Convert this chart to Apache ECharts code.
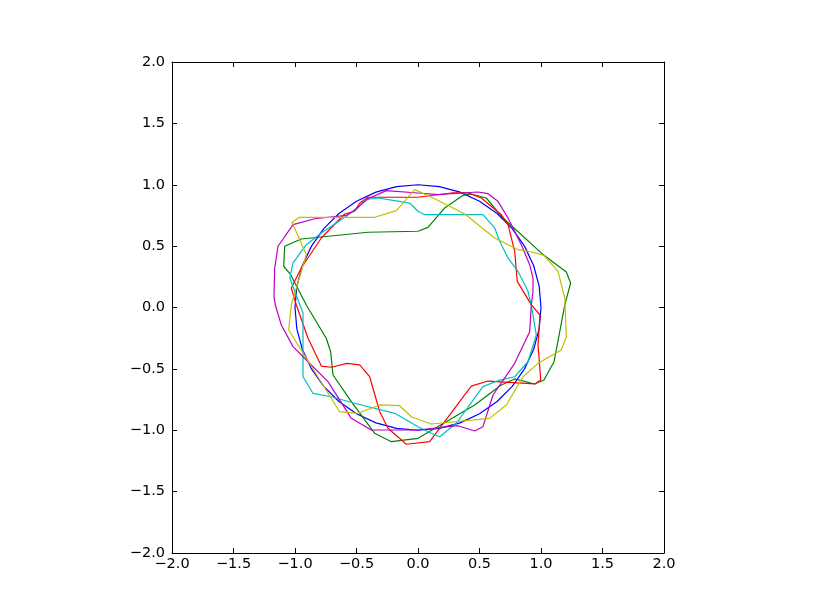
<!DOCTYPE html>
<html>
<head>
<meta charset="utf-8">
<script src="https://cdn.jsdelivr.net/npm/echarts@6/dist/echarts.min.js"></script>
<style>
html,body{margin:0;padding:0;background:#fff;}
#chart{width:815px;height:615px;}
</style>
</head>
<body>
<div id="chart"></div>
<script>
// Tick values
var tickValues = [-2.0, -1.5, -1.0, -0.5, 0.0, 0.5, 1.0, 1.5, 2.0];

// Curves: [x, y] points
var blueCurve = [
  [1.000,0.000],[0.985,0.174],[0.940,0.342],[0.866,0.500],[0.766,0.643],[0.643,0.766],
  [0.500,0.866],[0.342,0.940],[0.174,0.985],[0.000,1.000],[-0.174,0.985],[-0.342,0.940],
  [-0.500,0.866],[-0.643,0.766],[-0.766,0.643],[-0.866,0.500],[-0.940,0.342],[-0.985,0.174],
  [-1.000,0.000],[-0.985,-0.174],[-0.940,-0.342],[-0.866,-0.500],[-0.766,-0.643],[-0.643,-0.766],
  [-0.500,-0.866],[-0.342,-0.940],[-0.174,-0.985],[0.000,-1.000],[0.174,-0.985],[0.342,-0.940],
  [0.500,-0.866],[0.643,-0.766],[0.766,-0.643],[0.866,-0.500],[0.940,-0.342],[0.985,-0.174]
];

var greenCurve = [
  [0.000,0.621],[0.081,0.653],[0.217,0.811],[0.366,0.914],[0.433,0.925],[0.555,0.892],
  [0.691,0.729],[1.024,0.425],[1.206,0.289],[1.241,0.200],[1.193,0.020],[1.106,-0.442],
  [1.024,-0.591],[0.949,-0.623],[0.786,-0.582],[0.677,-0.631],[0.461,-0.794],[0.000,-1.066],
  [-0.217,-1.093],[-0.352,-1.025],[-0.542,-0.767],[-0.691,-0.550],[-0.710,-0.360],[-0.746,-0.251],
  [-0.908,0.020],[-1.035,0.267],[-1.092,0.336],[-1.084,0.499],[-0.949,0.558],[-0.407,0.613]
];

var redCurve = [
  [0.000,0.898],[0.271,0.933],[0.407,0.933],[0.515,0.892],[0.677,0.756],[0.732,0.675],
  [0.786,0.458],[0.807,0.213],[0.921,0.023],[0.992,-0.061],[0.976,-0.305],[0.998,-0.591],
  [0.949,-0.623],[0.569,-0.599],[0.433,-0.640],[0.095,-1.093],[-0.095,-1.114],[-0.244,-0.984],
  [-0.311,-0.849],[-0.393,-0.564],[-0.474,-0.468],[-0.577,-0.455],[-0.705,-0.487],[-0.786,-0.477],
  [-0.894,-0.251],[-0.989,0.020],[-1.030,0.159],[-0.949,0.322],[-0.786,0.566],[-0.596,0.762],
  [-0.515,0.784],[-0.474,0.851],[-0.407,0.898],[-0.189,0.898]
];

var cyanCurve = [
  [0.000,0.784],[0.054,0.756],[0.352,0.756],[0.528,0.756],[0.624,0.648],[0.664,0.539],
  [0.732,0.403],[0.813,0.295],[0.894,0.132],[0.921,0.020],[0.962,-0.224],[0.894,-0.442],
  [0.786,-0.564],[0.664,-0.591],[0.528,-0.645],[0.311,-0.943],[0.176,-1.053],[0.108,-1.025],
  [0.000,-0.971],[-0.189,-0.862],[-0.515,-0.780],[-0.705,-0.727],[-0.854,-0.699],[-0.935,-0.564],
  [-0.935,-0.045],[-1.043,0.240],[-1.016,0.363],[-0.908,0.512],[-0.786,0.607],[-0.583,0.743],
  [-0.488,0.811],[-0.433,0.878],[-0.325,0.892],[-0.189,0.870],[-0.067,0.851]
];

var magentaCurve = [
  [0.000,0.933],[0.163,0.919],[0.352,0.933],[0.488,0.941],[0.569,0.927],[0.650,0.865],
  [0.732,0.729],[0.840,0.512],[0.908,0.349],[0.935,0.240],[0.935,0.132],[0.921,0.020],
  [0.908,-0.197],[0.786,-0.455],[0.610,-0.713],[0.528,-0.971],[0.461,-1.006],[0.325,-0.963],
  [0.000,-0.998],[-0.380,-0.998],[-0.542,-0.903],[-0.732,-0.604],[-0.894,-0.442],[-1.016,-0.319],
  [-1.111,-0.143],[-1.160,0.020],[-1.171,0.091],[-1.165,0.322],[-1.138,0.499],[-1.016,0.675],
  [-0.840,0.723],[-0.583,0.751],[-0.528,0.784],[-0.407,0.886],[-0.258,0.952]
];

var yellowCurve = [
  [-0.027,0.960],[0.136,0.886],[0.380,0.762],[0.624,0.566],[0.813,0.471],[0.921,0.452],
  [1.024,0.425],[1.138,0.295],[1.193,0.077],[1.206,-0.238],[1.165,-0.346],[0.976,-0.455],
  [0.854,-0.564],[0.718,-0.794],[0.583,-0.903],[0.108,-0.949],[-0.054,-0.890],[-0.149,-0.800],
  [-0.311,-0.794],[-0.488,-0.862],[-0.637,-0.849],[-1.051,-0.183],[-1.030,0.020],[-0.908,0.430],
  [-1.024,0.694],[-0.962,0.735],[-0.352,0.735],[-0.176,0.789]
];

var curves = [
  {name:'b', data: blueCurve, color:'#0000ff'},
  {name:'g', data: greenCurve, color:'#008000'},
  {name:'r', data: redCurve, color:'#ff0000'},
  {name:'c', data: cyanCurve, color:'#00bfbf'},
  {name:'m', data: magentaCurve, color:'#bf00bf'},
  {name:'y', data: yellowCurve, color:'#bfbf00'}
];

function closed(arr){ return arr.concat([arr[0]]); }
function fmt(v){ return v.toFixed(1).replace('-', '\u2212'); }

var labelFont = {fontFamily:'DejaVu Sans', fontSize:14.5, color:'#000'};
function axisCommon(show, pos){
  return {
    type:'value', min:tickValues[0], max:tickValues[tickValues.length-1],
    interval:0.5, position:pos,
    axisLine:{show:true, onZero:false, lineStyle:{color:'#000', width:1}},
    axisTick:{show:true, inside:true, length:5, lineStyle:{color:'#000', width:1}},
    splitLine:{show:false},
    axisLabel: show ? Object.assign({show:true, formatter:fmt}, labelFont) : {show:false}
  };
}

var xa = axisCommon(true, 'bottom'); xa.axisLabel.margin = 4;
var xb = axisCommon(false, 'top');
var ya = axisCommon(true, 'left'); ya.axisLabel.margin = 7;
var yb = axisCommon(false, 'right');

var chart = echarts.init(document.getElementById('chart'), null, {renderer:'canvas'});
chart.setOption({
  animation:false,
  backgroundColor:'#fff',
  grid:{left:172, top:62, width:492, height:491, containLabel:false},
  xAxis:[xa, xb],
  yAxis:[ya, yb],
  series: curves.map(function(c){
    return {
      type:'line', name:c.name, xAxisIndex:0, yAxisIndex:0,
      data: closed(c.data), showSymbol:false, symbol:'none', smooth:false,
      lineStyle:{color:c.color, width:1.2}, itemStyle:{color:c.color},
      emphasis:{disabled:true}, silent:true
    };
  })
});
</script>
</body>
</html>
